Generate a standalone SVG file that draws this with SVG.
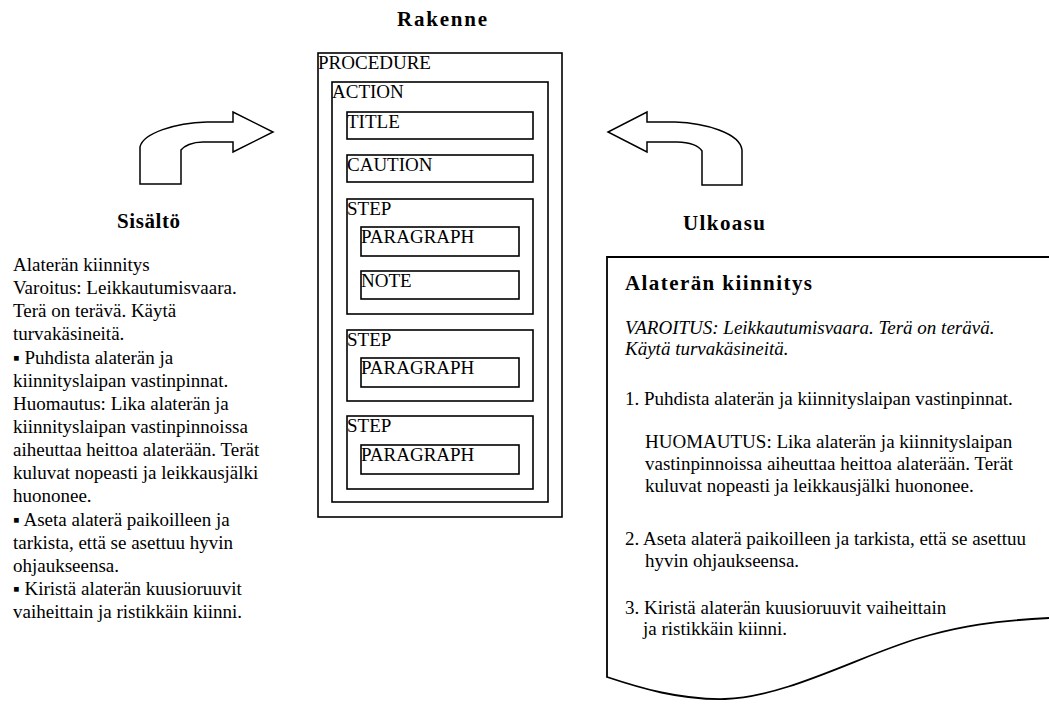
<svg xmlns="http://www.w3.org/2000/svg" width="1049" height="704" viewBox="0 0 1049 704">
<style>
  .t { font-family: "Liberation Serif", "Times New Roman", serif; font-size: 19px; fill: #000; }
  .b { font-family: "Liberation Serif", "Times New Roman", serif; font-size: 21px; font-weight: bold; fill: #000; }
  .i { font-style: italic; }
  .box { fill: none; stroke: #000; stroke-width: 1.6; }
  .arrow { fill: #fff; stroke: #000; stroke-width: 1.5; stroke-linejoin: miter; }
  .doc { fill: none; stroke: #000; stroke-width: 1.8; }
</style>
<rect x="0" y="0" width="1049" height="704" fill="#fff"/>

<g id="connectors">
  <path class="arrow" d="M140,184 L181,184 L181,150 C184,146 192,142 203,142 L233,142 L233,152 L273,132 L233,112 L233,122 L207,122 C175,123 143,133 140,147 Z"/>
  <path class="arrow" d="M742,185 L702,185 L702,151 C699,146 690,142 677,142 L647,142 L647,152 L608,132 L647,112 L647,122 L675,122 C705,123 740,133 742,150 Z"/>
</g>

<g id="title-rakenne"><text class="b" x="397" y="26" textLength="90">Rakenne</text></g>
<g id="title-sisalto"><text class="b" x="117" y="228" textLength="63">Sisältö</text></g>
<g id="title-ulkoasu"><text class="b" x="683" y="230" textLength="82">Ulkoasu</text></g>

<g id="procedure">
  <rect class="box" x="318" y="53" width="244" height="464"/>
  <text class="t" x="318" y="69">PROCEDURE</text>
</g>
<g id="action">
  <rect class="box" x="332" y="82" width="216" height="420"/>
  <text class="t" x="332" y="98">ACTION</text>
</g>
<g id="title">
  <rect class="box" x="347" y="112" width="186" height="27"/>
  <text class="t" x="347" y="128">TITLE</text>
</g>
<g id="caution">
  <rect class="box" x="347" y="155" width="186" height="27"/>
  <text class="t" x="347" y="171">CAUTION</text>
</g>
<g id="step1">
  <rect class="box" x="347" y="199" width="186" height="115"/>
  <text class="t" x="347" y="215">STEP</text>
</g>
<g id="paragraph1">
  <rect class="box" x="361" y="227" width="158" height="29"/>
  <text class="t" x="361" y="243">PARAGRAPH</text>
</g>
<g id="note">
  <rect class="box" x="361" y="271" width="158" height="28"/>
  <text class="t" x="361" y="287">NOTE</text>
</g>
<g id="step2">
  <rect class="box" x="347" y="330" width="186" height="71"/>
  <text class="t" x="347" y="346">STEP</text>
</g>
<g id="paragraph2">
  <rect class="box" x="361" y="358" width="158" height="29"/>
  <text class="t" x="361" y="374">PARAGRAPH</text>
</g>
<g id="step3">
  <rect class="box" x="347" y="416" width="186" height="73"/>
  <text class="t" x="347" y="432">STEP</text>
</g>
<g id="paragraph3">
  <rect class="box" x="361" y="445" width="158" height="29"/>
  <text class="t" x="361" y="461">PARAGRAPH</text>
</g>

<g id="content-text">
  <text class="t" x="13" y="271">Alaterän kiinnitys</text>
  <text class="t" x="13" y="294">Varoitus: Leikkautumisvaara.</text>
  <text class="t" x="13" y="317">Terä on terävä. Käytä</text>
  <text class="t" x="13" y="340">turvakäsineitä.</text>
  <text class="t" x="13" y="364">▪ Puhdista alaterän ja</text>
  <text class="t" x="13" y="387">kiinnityslaipan vastinpinnat.</text>
  <text class="t" x="13" y="410">Huomautus: Lika alaterän ja</text>
  <text class="t" x="13" y="433">kiinnityslaipan vastinpinnoissa</text>
  <text class="t" x="13" y="456">aiheuttaa heittoa alaterään. Terät</text>
  <text class="t" x="13" y="479">kuluvat nopeasti ja leikkausjälki</text>
  <text class="t" x="13" y="502">huononee.</text>
  <text class="t" x="13" y="526">▪ Aseta alaterä paikoilleen ja</text>
  <text class="t" x="13" y="549">tarkista, että se asettuu hyvin</text>
  <text class="t" x="13" y="572">ohjaukseensa.</text>
  <text class="t" x="13" y="595">▪ Kiristä alaterän kuusioruuvit</text>
  <text class="t" x="13" y="618">vaiheittain ja ristikkäin kiinni.</text>
</g>

<g id="layout-document">
  <path class="doc" d="M1049,257 L607,257 L607,677 C640,688 680,700 725,699 C790,697 870,650 930,635 C960,627 990,621 1049,618"/>
  <text class="b" x="625" y="290" textLength="187">Alaterän kiinnitys</text>
  <text class="t i" x="625" y="334">VAROITUS: Leikkautumisvaara. Terä on terävä.</text>
  <text class="t i" x="625" y="355">Käytä turvakäsineitä.</text>
  <text class="t" x="625" y="405">1. Puhdista alaterän ja kiinnityslaipan vastinpinnat.</text>
  <text class="t" x="645" y="448">HUOMAUTUS: Lika alaterän ja kiinnityslaipan</text>
  <text class="t" x="645" y="470">vastinpinnoissa aiheuttaa heittoa alaterään. Terät</text>
  <text class="t" x="645" y="492">kuluvat nopeasti ja leikkausjälki huononee.</text>
  <text class="t" x="625" y="545">2. Aseta alaterä paikoilleen ja tarkista, että se asettuu</text>
  <text class="t" x="645" y="567">hyvin ohjaukseensa.</text>
  <text class="t" x="625" y="614">3. Kiristä alaterän kuusioruuvit vaiheittain</text>
  <text class="t" x="643" y="635">ja ristikkäin kiinni.</text>
</g>
</svg>
